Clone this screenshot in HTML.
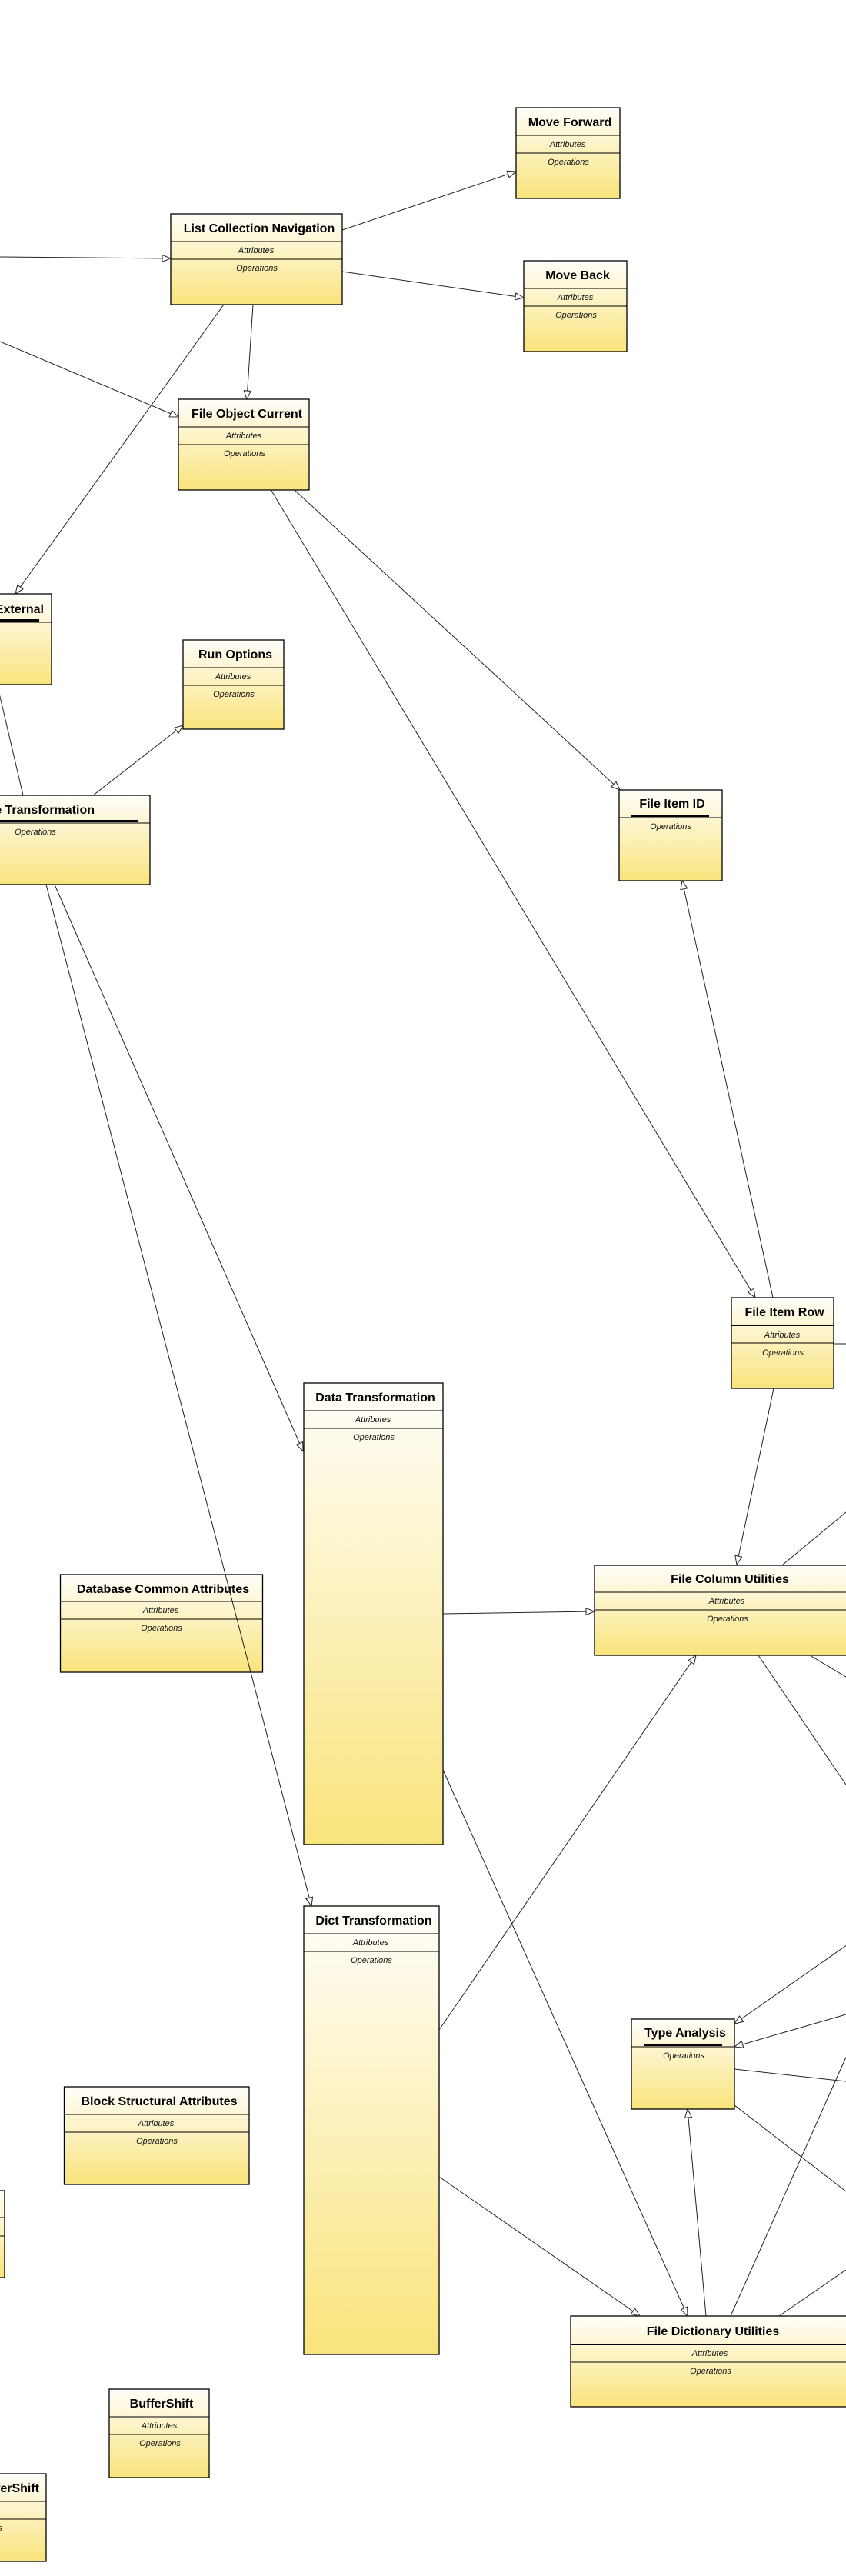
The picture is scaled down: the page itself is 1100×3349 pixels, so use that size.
<!DOCTYPE html>
<html><head><meta charset="utf-8"><style>
html,body{margin:0;padding:0;background:#fff;overflow:hidden;}
svg{display:block;}
.t{font:bold 16px "Liberation Sans",sans-serif;fill:#000;text-anchor:middle;}
.a{font:italic 11px "Liberation Sans",sans-serif;fill:#111;text-anchor:middle;}
.b{fill:url(#g);stroke:#000;stroke-width:1.3;}
.s{stroke:#000;stroke-width:1;}
.l{stroke:#222;stroke-width:1;fill:none;}
.ar{marker-end:url(#m);}
</style></head><body>
<svg width="1100" height="3349" viewBox="0 0 1100 3349" xmlns="http://www.w3.org/2000/svg">
<defs>
<linearGradient id="g" x1="0" y1="0" x2="0" y2="1"><stop offset="0" stop-color="#fffefa"/><stop offset="1" stop-color="#f9e47c"/></linearGradient>
<marker id="m" markerUnits="userSpaceOnUse" markerWidth="14" markerHeight="12" refX="12" refY="5" orient="auto"><path d="M1,0.5 L12,5 L1,9.5 Z" fill="#fff" stroke="#222" stroke-width="1"/></marker>
</defs>

<g>
<!-- Move Forward -->
<rect class="b" x="671" y="140" width="135" height="118"/>
<line class="s" x1="671" y1="176" x2="806" y2="176"/><line class="s" x1="671" y1="199" x2="806" y2="199"/>
<text class="t" x="741" y="164">Move Forward</text><text class="a" x="738" y="191">Attributes</text><text class="a" x="739" y="214">Operations</text>
<!-- Move Back -->
<rect class="b" x="681" y="339" width="134" height="118"/>
<line class="s" x1="681" y1="375" x2="815" y2="375"/><line class="s" x1="681" y1="398" x2="815" y2="398"/>
<text class="t" x="751" y="363">Move Back</text><text class="a" x="748" y="390">Attributes</text><text class="a" x="749" y="413">Operations</text>
<!-- LCN -->
<rect class="b" x="222" y="278" width="223" height="118"/>
<line class="s" x1="222" y1="314" x2="445" y2="314"/><line class="s" x1="222" y1="337" x2="445" y2="337"/>
<text class="t" x="337" y="302">List Collection Navigation</text><text class="a" x="333" y="329">Attributes</text><text class="a" x="334" y="352">Operations</text>
<!-- FOC -->
<rect class="b" x="232" y="519" width="170" height="118"/>
<line class="s" x1="232" y1="555" x2="402" y2="555"/><line class="s" x1="232" y1="578" x2="402" y2="578"/>
<text class="t" x="321" y="543">File Object Current</text><text class="a" x="317" y="570">Attributes</text><text class="a" x="318" y="593">Operations</text>
<!-- External -->
<rect class="b" x="-120" y="772" width="187" height="118"/>
<line class="s" x1="-120" y1="809" x2="67" y2="809"/><rect x="-100" y="805" width="151" height="3" fill="#000"/>
<text class="t" x="57" y="797" style="text-anchor:end">File Object External</text><text class="a" x="-29" y="824">Operations</text>
<!-- Run Options -->
<rect class="b" x="238" y="832" width="131" height="116"/>
<line class="s" x1="238" y1="868" x2="369" y2="868"/><line class="s" x1="238" y1="891" x2="369" y2="891"/>
<text class="t" x="306" y="856">Run Options</text><text class="a" x="303" y="883">Attributes</text><text class="a" x="304" y="906">Operations</text>
<!-- Type Transformation -->
<rect class="b" x="-103" y="1034" width="298" height="116"/>
<line class="s" x1="-103" y1="1070" x2="195" y2="1070"/><rect x="-90" y="1066" width="269" height="3" fill="#000"/>
<text class="t" x="123" y="1058" style="text-anchor:end">Type Transformation</text><text class="a" x="46" y="1085">Operations</text>
<!-- File Item ID -->
<rect class="b" x="805" y="1027" width="134" height="118"/>
<line class="s" x1="805" y1="1063" x2="939" y2="1063"/><rect x="820" y="1059" width="102" height="3" fill="#000"/>
<text class="t" x="874" y="1050">File Item ID</text><text class="a" x="872" y="1078">Operations</text>
<!-- File Item Row -->
<rect class="b" x="951" y="1687" width="133" height="118"/>
<line class="s" x1="951" y1="1723.5" x2="1084" y2="1723.5"/><line class="s" x1="951" y1="1746" x2="1084" y2="1746"/>
<text class="t" x="1020" y="1711">File Item Row</text><text class="a" x="1017" y="1739">Attributes</text><text class="a" x="1018" y="1762">Operations</text>
<!-- Data Transformation -->
<rect class="b" x="395" y="1798" width="181" height="600"/>
<line class="s" x1="395" y1="1834" x2="576" y2="1834"/><line class="s" x1="395" y1="1857" x2="576" y2="1857"/>
<text class="t" x="488" y="1822">Data Transformation</text><text class="a" x="485" y="1849">Attributes</text><text class="a" x="486" y="1872">Operations</text>
<!-- DCA -->
<rect class="b" x="78.5" y="2047" width="263" height="127"/>
<line class="s" x1="78.5" y1="2082" x2="341.5" y2="2082"/><line class="s" x1="78.5" y1="2105" x2="341.5" y2="2105"/>
<text class="t" x="212" y="2071">Database Common Attributes</text><text class="a" x="209" y="2097">Attributes</text><text class="a" x="210" y="2120">Operations</text>
<!-- FCU -->
<rect class="b" x="773" y="2035" width="350" height="117"/>
<line class="s" x1="773" y1="2070" x2="1123" y2="2070"/><line class="s" x1="773" y1="2093" x2="1123" y2="2093"/>
<text class="t" x="949" y="2058">File Column Utilities</text><text class="a" x="945" y="2085">Attributes</text><text class="a" x="946" y="2108">Operations</text>
<!-- Dict Transformation -->
<rect class="b" x="395" y="2478" width="176" height="583"/>
<line class="s" x1="395" y1="2514" x2="571" y2="2514"/><line class="s" x1="395" y1="2537" x2="571" y2="2537"/>
<text class="t" x="486" y="2502">Dict Transformation</text><text class="a" x="482" y="2529">Attributes</text><text class="a" x="483" y="2552">Operations</text>
<!-- Type Analysis -->
<rect class="b" x="821" y="2625" width="134" height="117"/>
<line class="s" x1="821" y1="2661" x2="955" y2="2661"/><rect x="837" y="2657" width="102" height="3" fill="#000"/>
<text class="t" x="891" y="2648">Type Analysis</text><text class="a" x="889" y="2676">Operations</text>
<!-- BSA -->
<rect class="b" x="83.5" y="2713" width="240.5" height="127"/>
<line class="s" x1="83.5" y1="2749" x2="324" y2="2749"/><line class="s" x1="83.5" y1="2772" x2="324" y2="2772"/>
<text class="t" x="207" y="2737">Block Structural Attributes</text><text class="a" x="203" y="2764">Attributes</text><text class="a" x="204" y="2787">Operations</text>
<!-- left small box -->
<rect class="b" x="-120" y="2848" width="126" height="113"/>
<line class="s" x1="-120" y1="2883" x2="6" y2="2883"/><line class="s" x1="-120" y1="2907" x2="6" y2="2907"/>
<!-- BufferShift -->
<rect class="b" x="142" y="3106" width="130" height="115"/>
<line class="s" x1="142" y1="3142" x2="272" y2="3142"/><line class="s" x1="142" y1="3165" x2="272" y2="3165"/>
<text class="t" x="210" y="3130">BufferShift</text><text class="a" x="207" y="3157">Attributes</text><text class="a" x="208" y="3180">Operations</text>
<!-- ...erShift -->
<rect class="b" x="-110" y="3216" width="170" height="114"/>
<line class="s" x1="-110" y1="3252" x2="60" y2="3252"/><line class="s" x1="-110" y1="3275" x2="60" y2="3275"/>
<text class="t" x="51" y="3240" style="text-anchor:end">ByteBufferShift</text><text class="a" x="-25" y="3267">Attributes</text><text class="a" x="-24" y="3290">Operations</text>
<!-- FDU -->
<rect class="b" x="742" y="3011" width="370" height="118"/>
<line class="s" x1="742" y1="3048.5" x2="1112" y2="3048.5"/><line class="s" x1="742" y1="3071" x2="1112" y2="3071"/>
<text class="t" x="927" y="3036">File Dictionary Utilities</text><text class="a" x="923" y="3063">Attributes</text><text class="a" x="924" y="3086">Operations</text>
</g>

<g>
<line class="l ar" x1="0" y1="334" x2="222" y2="336"/>
<line class="l ar" x1="0" y1="444" x2="232" y2="542"/>
<line class="l ar" x1="291" y1="396" x2="20" y2="772"/>
<line class="l ar" x1="329" y1="396" x2="321" y2="519"/>
<line class="l ar" x1="445" y1="299" x2="671" y2="223"/>
<line class="l ar" x1="445" y1="353" x2="681" y2="387"/>
<line class="l ar" x1="352.5" y1="637" x2="982" y2="1687"/>
<line class="l ar" x1="383" y1="637" x2="806" y2="1027"/>
<line class="l ar" x1="1005" y1="1687" x2="887" y2="1145"/>
<line class="l" x1="-2" y1="897" x2="30" y2="1034"/>
<line class="l ar" x1="121" y1="1034" x2="238" y2="943"/>
<line class="l ar" x1="60" y1="1150" x2="405" y2="2478"/>
<line class="l ar" x1="71" y1="1150" x2="394" y2="1886.5"/>
<line class="l ar" x1="1006" y1="1805" x2="958" y2="2034"/>
<line class="l" x1="1018" y1="2034" x2="1100" y2="1966"/>
<line class="l ar" x1="576" y1="2098" x2="773" y2="2095"/>
<line class="l ar" x1="571" y1="2639" x2="905" y2="2152"/>
<line class="l" x1="986" y1="2152" x2="1110" y2="2335"/>
<line class="l" x1="1053" y1="2152" x2="1110" y2="2186"/>
<line class="l ar" x1="576" y1="2301" x2="894" y2="3011"/>
<line class="l ar" x1="571" y1="2830" x2="832" y2="3011"/>
<line class="l ar" x1="1100" y1="2529.5" x2="955" y2="2631"/>
<line class="l ar" x1="1100" y1="2619" x2="955" y2="2661"/>
<line class="l" x1="955" y1="2690" x2="1100" y2="2706"/>
<line class="l" x1="955" y1="2737" x2="1100" y2="2849"/>
<line class="l ar" x1="918" y1="3011" x2="894" y2="2742"/>
<line class="l" x1="950" y1="3011" x2="1100" y2="2674.5"/>
<line class="l" x1="1013" y1="3011" x2="1100" y2="2951"/>
<line class="l" x1="1084" y1="1747" x2="1100" y2="1747"/>
</g>
</svg>
</body></html>
